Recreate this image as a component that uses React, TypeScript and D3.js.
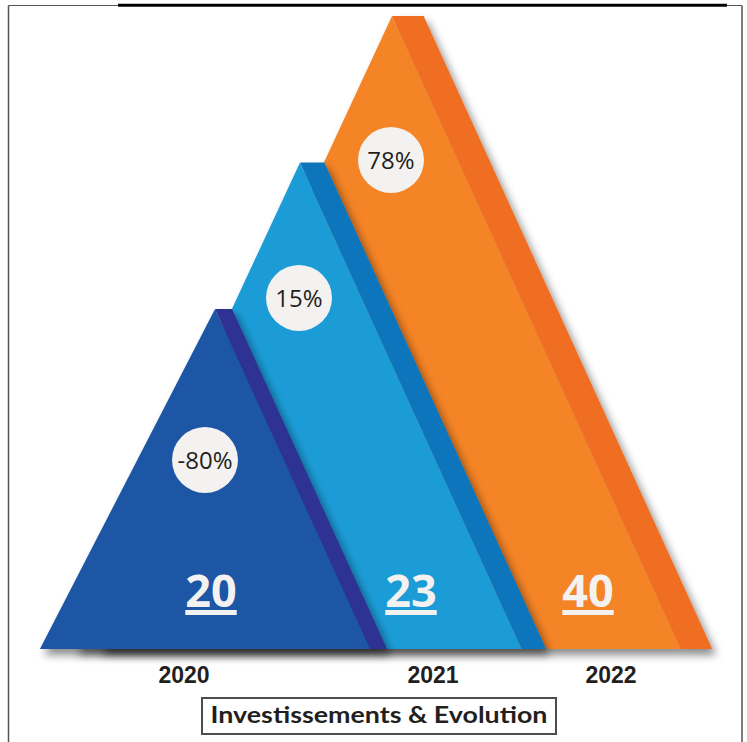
import React, { useEffect, useRef } from "react";
import * as d3 from "d3";

// ---- data ----
const categories = ["2020", "2021", "2022"];
const values = [20, 23, 40];
const growthLabels = ["-80%", "15%", "78%"];
const chartTitle = "Investissements & Evolution";

// ---- style ----
const faceColors = ["#1c57a5", "#1e9cd7", "#f58428"];
const stripColors = ["#2e3192", "#1074bb", "#f06e24"];

const W = 747;
const H = 742;
const BASE_Y = 649;

export default function App() {
  const ref = useRef<SVGSVGElement | null>(null);

  useEffect(() => {
    const svg = d3.select(ref.current);
    svg.selectAll("*").remove();

    // rank of each value (triangle height grows with rank)
    const sorted = [...values].sort((a, b) => a - b);
    const rank = values.map((v) => sorted.indexOf(v));

    const peakY = d3.scaleLinear().domain([0, values.length - 1]).range([309, 16]);
    const apexX = d3.scaleOrdinal<string, number>().domain(categories).range([215, 300, 392]);
    const badgeX = d3.scaleOrdinal<string, number>().domain(categories).range([205, 299, 391]);
    const badgeY = d3.scaleOrdinal<string, number>().domain(categories).range([460, 298, 160]);
    const valueX = d3.scaleOrdinal<string, number>().domain(categories).range([211, 411, 588]);
    const yearX = d3.scaleOrdinal<string, number>().domain(categories).range([184, 433, 611]);
    const leftSlope = d3.scaleOrdinal<string, number>().domain(categories).range([0.515, 0.465, 0.465]);
    const rightSlope = 0.456;

    const defs = svg.append("defs");
    const f = defs
      .append("filter")
      .attr("id", "shadow")
      .attr("x", "-20%")
      .attr("y", "-20%")
      .attr("width", "150%")
      .attr("height", "150%");
    f.append("feDropShadow")
      .attr("dx", 4)
      .attr("dy", 6)
      .attr("stdDeviation", 4)
      .attr("flood-color", "#000")
      .attr("flood-opacity", 0.45);

    // frame
    const frame = svg.append("g");
    frame.append("line").attr("x1", 8.5).attr("x2", 8.5).attr("y1", 5.5).attr("y2", H)
      .attr("stroke", "#555").attr("stroke-width", 1.5);
    frame.append("line").attr("x1", 742).attr("x2", 742).attr("y1", 5.5).attr("y2", H)
      .attr("stroke", "#555").attr("stroke-width", 1.5);
    frame.append("line").attr("x1", 8.5).attr("x2", 742).attr("y1", 5.5).attr("y2", 5.5)
      .attr("stroke", "#555").attr("stroke-width", 1.2);
    frame.append("line").attr("x1", 118).attr("x2", 727).attr("y1", 5.3).attr("y2", 5.3)
      .attr("stroke", "#000").attr("stroke-width", 3);

    // triangles: draw tallest first (back)
    const idx = categories.map((_, i) => i).sort((a, b) => rank[b] - rank[a]);
    const line = d3.line();
    idx.forEach((i) => {
      const c = categories[i];
      const top = peakY(rank[i]);
      const h = BASE_Y - top;
      const ax = apexX(c);
      const sw = 0.05 * h;
      const g = svg.append("g").attr("filter", "url(#shadow)");
      const face: [number, number][] = [
        [ax, top],
        [ax + rightSlope * h, BASE_Y],
        [ax - leftSlope(c) * h, BASE_Y],
      ];
      const strip: [number, number][] = [
        [ax, top],
        [ax + sw, top],
        [ax + sw + rightSlope * h, BASE_Y],
        [ax + rightSlope * h, BASE_Y],
      ];
      g.append("path").attr("d", line(face) + "Z").attr("fill", faceColors[i]);
      g.append("path").attr("d", line(strip) + "Z").attr("fill", stripColors[i]);
    });

    // growth badges
    categories.forEach((c, i) => {
      svg.append("circle")
        .attr("cx", badgeX(c))
        .attr("cy", badgeY(c))
        .attr("r", 33)
        .attr("fill", "#f3f2f0");
      svg.append("text")
        .attr("x", badgeX(c))
        .attr("y", badgeY(c) + 8.5)
        .attr("text-anchor", "middle")
        .attr("font-family", "'Open Sans', sans-serif")
        .attr("font-size", 24)
        .attr("fill", "#231f20")
        .text(growthLabels[i]);
    });

    // value labels with underline
    categories.forEach((c, i) => {
      const t = svg.append("text")
        .attr("x", valueX(c))
        .attr("y", 606.5)
        .attr("text-anchor", "middle")
        .attr("font-family", "'Open Sans', sans-serif")
        .attr("font-weight", 700)
        .attr("font-size", 45)
        .attr("fill", "#f3f2f0")
        .text(String(values[i]));
      const node = t.node() as SVGTextElement;
      const w = node ? node.getComputedTextLength() : 52;
      svg.append("rect")
        .attr("x", valueX(c) - w / 2)
        .attr("y", 610)
        .attr("width", w)
        .attr("height", 5)
        .attr("fill", "#f3f2f0");
    });

    // year labels
    categories.forEach((c) => {
      svg.append("text")
        .attr("x", yearX(c))
        .attr("y", 683)
        .attr("text-anchor", "middle")
        .attr("font-family", "'Liberation Sans', Arial, sans-serif")
        .attr("font-weight", 700)
        .attr("font-size", 23)
        .attr("fill", "#231f20")
        .text(c);
    });

    // title box
    svg.append("rect")
      .attr("x", 202)
      .attr("y", 698)
      .attr("width", 354)
      .attr("height", 36)
      .attr("fill", "#fff")
      .attr("stroke", "#4d4d4d")
      .attr("stroke-width", 2);
    svg.append("text")
      .attr("x", 379)
      .attr("y", 722.5)
      .attr("text-anchor", "middle")
      .attr("font-family", "Lato, sans-serif")
      .attr("font-weight", 700)
      .attr("font-size", 23)
      .attr("fill", "#231f20")
      .attr("textLength", 337)
      .attr("lengthAdjust", "spacingAndGlyphs")
      .text(chartTitle);
  }, []);

  return (
    <svg
      ref={ref}
      width={W}
      height={H}
      style={{ position: "absolute", left: 0, top: 0, background: "#fff" }}
    />
  );
}
